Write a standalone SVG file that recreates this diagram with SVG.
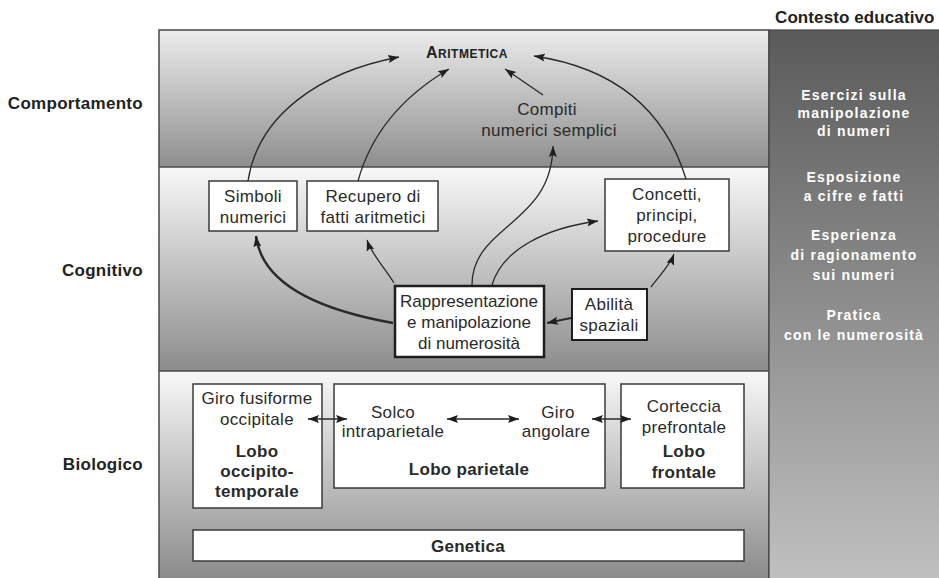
<svg xmlns="http://www.w3.org/2000/svg" width="939" height="578" viewBox="0 0 939 578">
<defs>
<linearGradient id="gBand1" x1="0" y1="0" x2="0" y2="1"><stop offset="0" stop-color="#ececec"/><stop offset="1" stop-color="#8e8e8e"/></linearGradient>
<linearGradient id="gBand2" x1="0" y1="0" x2="0" y2="1"><stop offset="0" stop-color="#f8f8f8"/><stop offset="1" stop-color="#8c8c8c"/></linearGradient>
<linearGradient id="gBand3" x1="0" y1="0" x2="0" y2="1"><stop offset="0" stop-color="#f8f8f8"/><stop offset="1" stop-color="#8a8a8a"/></linearGradient>
<linearGradient id="gPanel" x1="0" y1="0" x2="0" y2="1"><stop offset="0" stop-color="#5a5a5a"/><stop offset="1" stop-color="#c2c2c2"/></linearGradient>
<marker id="ah" markerUnits="userSpaceOnUse" markerWidth="12" markerHeight="10" refX="11" refY="4" orient="auto-start-reverse" viewBox="0 0 12 8"><path d="M0,0 L11,4 L0,8 L2,4 Z" fill="#1e1e1e"/></marker>
<style>
.t{font-family:"Liberation Sans",Arial,sans-serif;font-size:17px;fill:#2a2a2a;text-anchor:middle;letter-spacing:0.3px}
.b{font-weight:bold}
.lbl{font-family:"Liberation Sans",Arial,sans-serif;font-size:17px;font-weight:bold;fill:#222;text-anchor:end;letter-spacing:0.3px}
.pt{font-family:"Liberation Sans",Arial,sans-serif;font-size:14px;font-weight:bold;fill:#ffffff;text-anchor:middle;letter-spacing:1.2px}
.box{fill:#ffffff;stroke:#3a3a3a;stroke-width:1.5}
.c{fill:none;stroke:#2a2a2a;stroke-width:1.3;marker-end:url(#ah)}
.d{fill:none;stroke:#2a2a2a;stroke-width:1.3;marker-end:url(#ah);marker-start:url(#ah)}
</style>
</defs>

<g id="frame">
<rect x="159" y="30" width="610" height="137" fill="url(#gBand1)"/>
<rect x="159" y="167" width="610" height="204" fill="url(#gBand2)"/>
<rect x="159" y="371" width="610" height="210" fill="url(#gBand3)"/>
<rect x="159" y="30" width="610" height="560" fill="none" stroke="#4a4a4a" stroke-width="1.5"/>
<line x1="159" y1="167" x2="769" y2="167" stroke="#4a4a4a" stroke-width="1.5"/>
<line x1="159" y1="371" x2="769" y2="371" stroke="#4a4a4a" stroke-width="1.5"/>
</g>

<g id="panel">
<rect x="769" y="30" width="175" height="560" fill="url(#gPanel)" stroke="#444" stroke-width="1.2"/>
<text class="t b" x="775" y="23" style="text-anchor:start;font-size:17px;letter-spacing:0.1px;fill:#222">Contesto educativo</text>
<text class="pt" x="854" y="100">Esercizi sulla</text>
<text class="pt" x="854" y="118">manipolazione</text>
<text class="pt" x="854" y="136">di numeri</text>
<text class="pt" x="854" y="182">Esposizione</text>
<text class="pt" x="854" y="201">a cifre e fatti</text>
<text class="pt" x="854" y="240">Esperienza</text>
<text class="pt" x="854" y="260">di ragionamento</text>
<text class="pt" x="854" y="280">sui numeri</text>
<text class="pt" x="854" y="320">Pratica</text>
<text class="pt" x="854" y="340">con le numerosità</text>
</g>

<g id="levels">
<text class="lbl" x="143" y="109">Comportamento</text>
<text class="lbl" x="143" y="276">Cognitivo</text>
<text class="lbl" x="143" y="470">Biologico</text>
</g>

<g id="aritmetica">
<text x="426" y="58" style="font-family:'Liberation Sans',Arial,sans-serif;font-weight:bold;fill:#222;letter-spacing:0.5px"><tspan font-size="16">A</tspan><tspan font-size="12">RITMETICA</tspan></text>
</g>

<g id="compiti">
<text class="t" x="547" y="115">Compiti</text>
<text class="t" x="549" y="136">numerici semplici</text>
</g>

<g id="simboli">
<rect class="box" x="209" y="181" width="88" height="50"/>
<text class="t" x="253" y="202">Simboli</text>
<text class="t" x="253" y="223">numerici</text>
</g>

<g id="recupero">
<rect class="box" x="307" y="181" width="131" height="50"/>
<text class="t" x="373" y="202">Recupero di</text>
<text class="t" x="373" y="223">fatti aritmetici</text>
</g>

<g id="concetti">
<rect class="box" x="605" y="179" width="124" height="72"/>
<text class="t" x="667" y="200">Concetti,</text>
<text class="t" x="667" y="221">principi,</text>
<text class="t" x="667" y="242">procedure</text>
</g>

<g id="rappresentazione">
<rect class="box" x="395" y="286" width="149" height="71" style="stroke:#1e1e1e;stroke-width:2.5"/>
<text class="t" x="469" y="307" style="letter-spacing:0">Rappresentazione</text>
<text class="t" x="469" y="328" style="letter-spacing:0">e manipolazione</text>
<text class="t" x="469" y="349" style="letter-spacing:0">di numerosità</text>
</g>

<g id="abilita">
<rect class="box" x="572" y="289" width="75" height="51" style="stroke:#1e1e1e;stroke-width:2"/>
<text class="t" x="609" y="310">Abilità</text>
<text class="t" x="609" y="331">spaziali</text>
</g>

<g id="occipito">
<rect class="box" x="193" y="384" width="129" height="124"/>
<text class="t" x="257" y="404">Giro fusiforme</text>
<text class="t" x="257" y="425">occipitale</text>
<text class="t b" x="257" y="457">Lobo</text>
<text class="t b" x="257" y="477">occipito-</text>
<text class="t b" x="257" y="497">temporale</text>
</g>

<g id="parietale">
<rect class="box" x="334" y="384" width="271" height="104"/>
<text class="t" x="393" y="418">Solco</text>
<text class="t" x="393" y="437">intraparietale</text>
<text class="t" x="558" y="418">Giro</text>
<text class="t" x="556" y="437">angolare</text>
<text class="t b" x="469" y="475">Lobo parietale</text>
</g>

<g id="frontale">
<rect class="box" x="621" y="384" width="123" height="104"/>
<text class="t" x="684" y="412">Corteccia</text>
<text class="t" x="684" y="433">prefrontale</text>
<text class="t b" x="684" y="457">Lobo</text>
<text class="t b" x="684" y="478">frontale</text>
</g>

<g id="genetica">
<rect class="box" x="193" y="530" width="551" height="31"/>
<text class="t b" x="468" y="552">Genetica</text>
</g>

<g id="connectors">
<path class="c" d="M248,181 C258,115 320,72 399,57"/>
<path class="c" d="M358,181 C372,130 405,95 449,69"/>
<path class="c" d="M543,95 L505,69"/>
<path class="c" d="M686,179 C665,110 615,68 534,56"/>
<path class="c" d="M472,285 C472,225 552,225 553,146"/>
<path class="c" d="M492,285 C502,250 545,228 598,221"/>
<path class="c" d="M393,323 C320,310 262,285 256,236" style="stroke-width:2.5"/>
<path class="c" d="M394,283 C385,268 372,255 367,240"/>
<path class="c" d="M651,287 C660,275 670,265 674,254"/>
<path class="c" d="M571,318 L547,323" style="stroke-width:2"/>
<path class="d" d="M308,419 L347,419"/>
<path class="d" d="M447,419 L519,419"/>
<path class="d" d="M592,419 L631,419"/>
</g>
</svg>
